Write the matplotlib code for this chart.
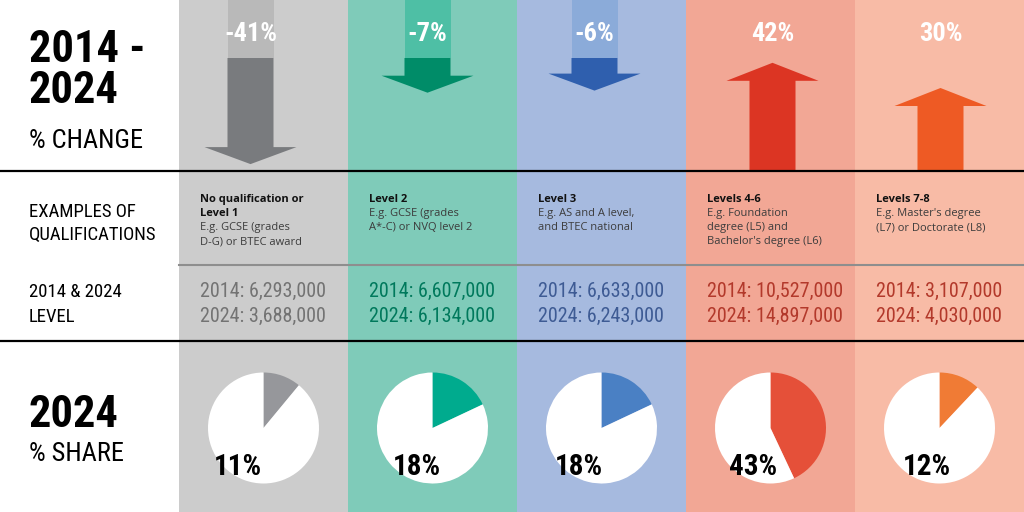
import matplotlib
matplotlib.use("Agg")
import matplotlib.pyplot as plt
from matplotlib.patches import Rectangle, FancyArrow

# data
levels = ["No qualification or\nLevel 1", "Level 2", "Level 3", "Levels 4-6", "Levels 7-8"]
examples = ["E.g. GCSE (grades\nD-G) or BTEC award",
            "E.g. GCSE (grades\nA*-C) or NVQ level 2",
            "E.g. AS and A level,\nand BTEC national",
            "E.g. Foundation\ndegree (L5) and\nBachelor's degree (L6)",
            "E.g. Master's degree\n(L7) or Doctorate (L8)"]
count_2014 = [6293000, 6607000, 6633000, 10527000, 3107000]
count_2024 = [3688000, 6134000, 6243000, 14897000, 4030000]
pct_change = [-41, -7, -6, 42, 30]
share_2024 = [11, 18, 18, 43, 12]

# styles
bg_col = ["#cccccc", "#7fcbb9", "#a6badf", "#f2a795", "#f8bba6"]
ghost_col = ["#b9b9b9", "#4ebfa5", "#8babd9", None, None]
arrow_col = ["#797b7e", "#008c68", "#2f5fae", "#dc3523", "#ee5a24"]
num_col = ["#737373", "#00795c", "#3e5b94", "#b3392b", "#b3392b"]
pie_col = ["#96979b", "#00ab8e", "#4a80c4", "#e55039", "#f07b35"]
arrow_dx = [-13, -5, -7, 2, 1]
label_dx = [-50, -40, -47, -41, -37]

cond = ["Roboto Condensed", "DejaVu Sans"]
body = ["Open Sans", "DejaVu Sans"]

W, H = 1024, 512
x0, cw = 179, 169

fig = plt.figure(figsize=(W / 100, H / 100), dpi=100)
ax = fig.add_axes([0, 0, 1, 1])
ax.set_xlim(0, W)
ax.set_ylim(H, 0)
ax.axis("off")

for i in range(5):
    left = x0 + i * cw
    cx = left + cw / 2
    ax.add_patch(Rectangle((left, 0), cw, H, color=bg_col[i], lw=0, zorder=0))

    # arrows, length from the % change
    c = pct_change[i]
    L = 20 + 2.1 * abs(c)
    ax_x = cx + arrow_dx[i]
    if c < 0:
        ax.add_patch(Rectangle((ax_x - 23, 0), 46, 58, color=ghost_col[i], lw=0, zorder=1))
        ax.add_patch(FancyArrow(ax_x, 58, 0, L, width=46, head_width=92, head_length=17,
                                length_includes_head=True, color=arrow_col[i], lw=0, zorder=2))
    else:
        ax.add_patch(FancyArrow(ax_x, 171, 0, -L, width=46, head_width=92, head_length=18,
                                length_includes_head=True, color=arrow_col[i], lw=0, zorder=2))
    ax.text(ax_x, 34, f"{c}%", color="white", fontsize=19, weight="bold", family=cond,
            ha="center", va="center", zorder=3)

    # qualification text
    tx = left + 21
    title_lines = levels[i].split("\n")
    desc_lines = examples[i].split("\n")
    for k, line in enumerate(title_lines):
        ax.text(tx, 202 + 14 * k, line, fontsize=8, weight="bold", family=body,
                color="#111111", va="baseline", zorder=3)
    for k, line in enumerate(desc_lines):
        ax.text(tx, 202 + 14 * (k + len(title_lines)), line, fontsize=8, family=body,
                color="#3c3c3c", va="baseline", zorder=3)

    ax.text(tx, 297, f"2014: {count_2014[i]:,}", fontsize=14.5, family=cond,
            color=num_col[i], va="baseline", zorder=3)
    ax.text(tx, 322, f"2024: {count_2024[i]:,}", fontsize=14.5, family=cond,
            color=num_col[i], va="baseline", zorder=3)

    # pie
    r, py = 55.5, 428
    pax = fig.add_axes([(cx - r) / W, (H - py - r) / H, 2 * r / W, 2 * r / H])
    pax.pie([share_2024[i], 100 - share_2024[i]], colors=[pie_col[i], "white"],
            startangle=90, counterclock=False, radius=1,
            wedgeprops=dict(linewidth=0))
    pax.set_xlim(-1, 1)
    pax.set_ylim(-1, 1)
    pax.axis("off")
    fig.text(cx + label_dx[i], 467, f"{share_2024[i]}%", transform=ax.transData,
             fontsize=21, weight="bold", family=cond, color="black",
             ha="left", va="center")

# separators
ax.plot([0, W], [171, 171], color="black", lw=1.6, zorder=4)
ax.plot([0, W], [341, 341], color="black", lw=1.6, zorder=4)
ax.plot([x0, W], [265, 265], color="#8e8e8e", lw=1.5, zorder=4)

# row headings
ax.text(29, 62, "2014 -", fontsize=32, weight="bold", family=cond, va="baseline")
ax.text(29, 103, "2024", fontsize=32, weight="bold", family=cond, va="baseline")
ax.text(29, 148, "% CHANGE", fontsize=19, family=cond, va="baseline")
ax.text(29, 217, "EXAMPLES OF", fontsize=13.5, family=cond, va="baseline")
ax.text(29, 240, "QUALIFICATIONS", fontsize=13.5, family=cond, va="baseline")
ax.text(29, 297, "2014 & 2024", fontsize=13.5, family=cond, va="baseline")
ax.text(29, 322, "LEVEL", fontsize=13.5, family=cond, va="baseline")
ax.text(29, 427, "2024", fontsize=32, weight="bold", family=cond, va="baseline")
ax.text(29, 461, "% SHARE", fontsize=19, family=cond, va="baseline")

fig.savefig("out.png", dpi=100)
